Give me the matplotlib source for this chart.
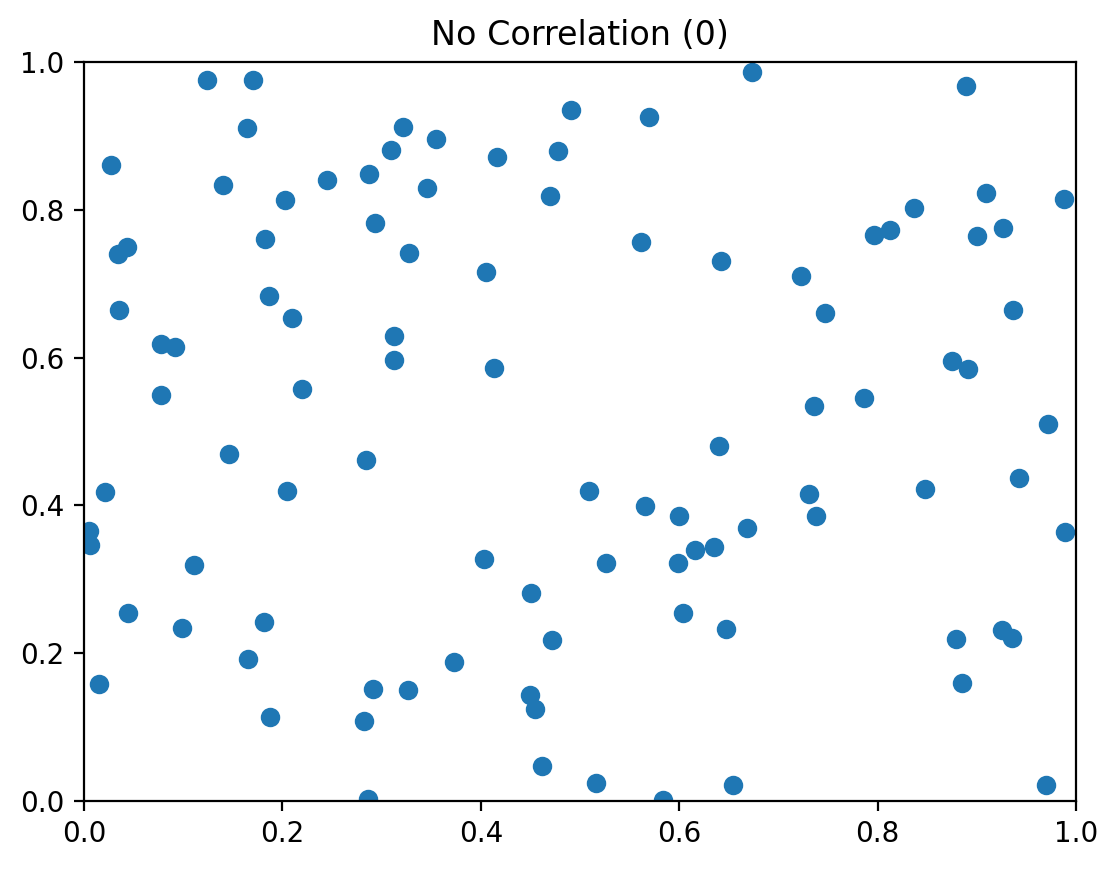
import matplotlib.pyplot as plt

# values
x_vals = [
    0.124, 0.170, 0.673, 0.889, 0.491, 0.570, 0.164, 0.322, 0.355, 0.309,
    0.478, 0.416, 0.027, 0.287, 0.245, 0.140, 0.346, 0.470, 0.203, 0.909,
    0.988, 0.837, 0.293, 0.812, 0.796, 0.900, 0.926, 0.182, 0.043, 0.034,
    0.328, 0.561, 0.642, 0.405, 0.723, 0.186, 0.035, 0.747, 0.936, 0.210,
    0.313, 0.078, 0.092, 0.313, 0.875, 0.891, 0.413, 0.220, 0.078, 0.786,
    0.736, 0.972, 0.640, 0.146, 0.284, 0.943, 0.848, 0.021, 0.205, 0.509,
    0.731, 0.566, 0.600, 0.738, 0.005, 0.006, 0.668, 0.989, 0.616, 0.635,
    0.403, 0.526, 0.599, 0.111, 0.451, 0.044, 0.604, 0.181, 0.099, 0.647,
    0.925, 0.935, 0.879, 0.472, 0.165, 0.373, 0.885, 0.015, 0.291, 0.327,
    0.450, 0.455, 0.187, 0.282, 0.462, 0.516, 0.970, 0.654, 0.286, 0.584,
]
y_vals = [
    0.975, 0.976, 0.986, 0.967, 0.935, 0.925, 0.911, 0.912, 0.896, 0.881,
    0.879, 0.871, 0.860, 0.849, 0.841, 0.833, 0.830, 0.819, 0.813, 0.823,
    0.815, 0.802, 0.782, 0.773, 0.766, 0.764, 0.775, 0.760, 0.750, 0.740,
    0.742, 0.756, 0.731, 0.716, 0.711, 0.683, 0.664, 0.661, 0.664, 0.653,
    0.629, 0.618, 0.614, 0.597, 0.595, 0.584, 0.586, 0.557, 0.550, 0.545,
    0.534, 0.510, 0.481, 0.470, 0.461, 0.437, 0.422, 0.418, 0.419, 0.419,
    0.416, 0.399, 0.386, 0.385, 0.366, 0.346, 0.370, 0.364, 0.340, 0.344,
    0.327, 0.322, 0.322, 0.320, 0.282, 0.254, 0.254, 0.242, 0.234, 0.233,
    0.231, 0.221, 0.219, 0.218, 0.192, 0.188, 0.159, 0.158, 0.152, 0.150,
    0.143, 0.124, 0.113, 0.108, 0.047, 0.024, 0.021, 0.021, 0.003, 0.001,
]

fig = plt.figure(figsize=(1117 / 200, 869 / 200), dpi=200)
ax = fig.add_axes([84 / 1117, 68 / 869, 992 / 1117, 739 / 869])
ax.scatter(x_vals, y_vals, color="#1f77b4")
ax.set_xlim(0, 1)
ax.set_ylim(0, 1)
ax.set_title("No Correlation (0)")

fig.savefig("out.png", dpi=200)
